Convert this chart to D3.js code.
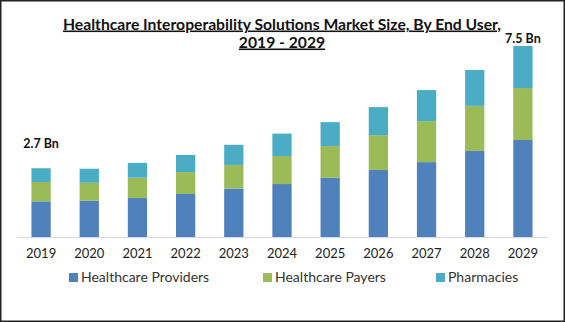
<!DOCTYPE html>
<html>
<head>
<meta charset="utf-8">
<script src="https://cdn.jsdelivr.net/npm/d3@7"></script>
<style>
  html, body { margin: 0; padding: 0; background: #fff; }
  svg { display: block; }
  text { font-family: Lato, "Open Sans", sans-serif; }
</style>
</head>
<body>
<svg id="chart" width="565" height="322"></svg>
<script>
// Market size by end user, USD billion
const years = ["2019","2020","2021","2022","2023","2024","2025","2026","2027","2028","2029"];
const providers = [1.40, 1.43, 1.53, 1.69, 1.90, 2.08, 2.33, 2.63, 2.94, 3.38, 3.81];
const payers    = [0.76, 0.70, 0.80, 0.86, 0.93, 1.10, 1.24, 1.37, 1.61, 1.77, 2.04];
const pharmacies= [0.54, 0.55, 0.58, 0.67, 0.79, 0.88, 0.94, 1.10, 1.22, 1.41, 1.65];
const seriesNames = ["Healthcare Providers", "Healthcare Payers", "Pharmacies"];
const valueLabels = [{year: "2019", text: "2.7 Bn", dy: -20}, {year: "2029", text: "7.5 Bn", dy: -3}];

const colors = ["#4f81bd", "#9bbb59", "#4bacc6"];

const svg = d3.select("#chart");
const W = 565, H = 322;

// outer frame
svg.append("rect")
  .attr("x", 0.75).attr("y", 0.75)
  .attr("width", W - 1.5).attr("height", H - 1.5)
  .attr("fill", "#fff").attr("stroke", "#222").attr("stroke-width", 1.5);

const x = d3.scaleBand().domain(years).range([17, 547]).paddingInner(0.6).paddingOuter(0.3);
const y = d3.scaleLinear().domain([0, 7.5]).range([237, 46]);

const rows = years.map((yr, i) => ({
  year: yr,
  "Healthcare Providers": providers[i],
  "Healthcare Payers": payers[i],
  "Pharmacies": pharmacies[i]
}));
const stacked = d3.stack().keys(seriesNames)(rows);

// title
const title = svg.append("g").attr("font-weight", "bold").attr("fill", "#111")
  .attr("text-anchor", "middle").style("text-decoration", "underline");
title.append("text").attr("x", 282).attr("y", 29.5).attr("font-size", 15.7)
  .text("Healthcare Interoperability Solutions Market Size, By End User,");
title.append("text").attr("x", 282).attr("y", 47.5).attr("font-size", 15.7)
  .text("2019 - 2029");

// stacked bars
svg.append("g").selectAll("g").data(stacked).join("g")
  .attr("fill", (d, i) => colors[i])
  .selectAll("rect").data(d => d).join("rect")
  .attr("x", d => x(d.data.year))
  .attr("width", x.bandwidth())
  .attr("y", d => y(d[1]))
  .attr("height", d => y(d[0]) - y(d[1]));

// x axis
const xAxis = svg.append("g").attr("transform", "translate(0,237)")
  .call(d3.axisBottom(x).tickSize(0).tickPadding(12));
xAxis.select(".domain").attr("stroke", "#d9d9d9").attr("stroke-width", 1);
xAxis.selectAll("text").attr("font-size", 13).attr("fill", "#222")
  .style("font-family", "Lato, 'Open Sans', sans-serif");

// total labels
const totals = years.map((yr, i) => providers[i] + payers[i] + pharmacies[i]);
svg.append("g").selectAll("text").data(valueLabels).join("text")
  .attr("x", d => x(d.year) + x.bandwidth() / 2)
  .attr("y", d => y(totals[years.indexOf(d.year)]) + d.dy)
  .attr("text-anchor", "middle")
  .attr("font-size", 12.5).attr("font-weight", "bold").attr("fill", "#111")
  .text(d => d.text);

// legend
const legendX = [69, 263, 436];
const legend = svg.append("g").selectAll("g").data(seriesNames).join("g")
  .attr("transform", (d, i) => `translate(${legendX[i]},273)`);
legend.append("rect").attr("width", 9).attr("height", 9).attr("fill", (d, i) => colors[i]);
legend.append("text").attr("x", 12).attr("y", 8.5).attr("font-size", 14).attr("fill", "#333")
  .text(d => d);
</script>
</body>
</html>
